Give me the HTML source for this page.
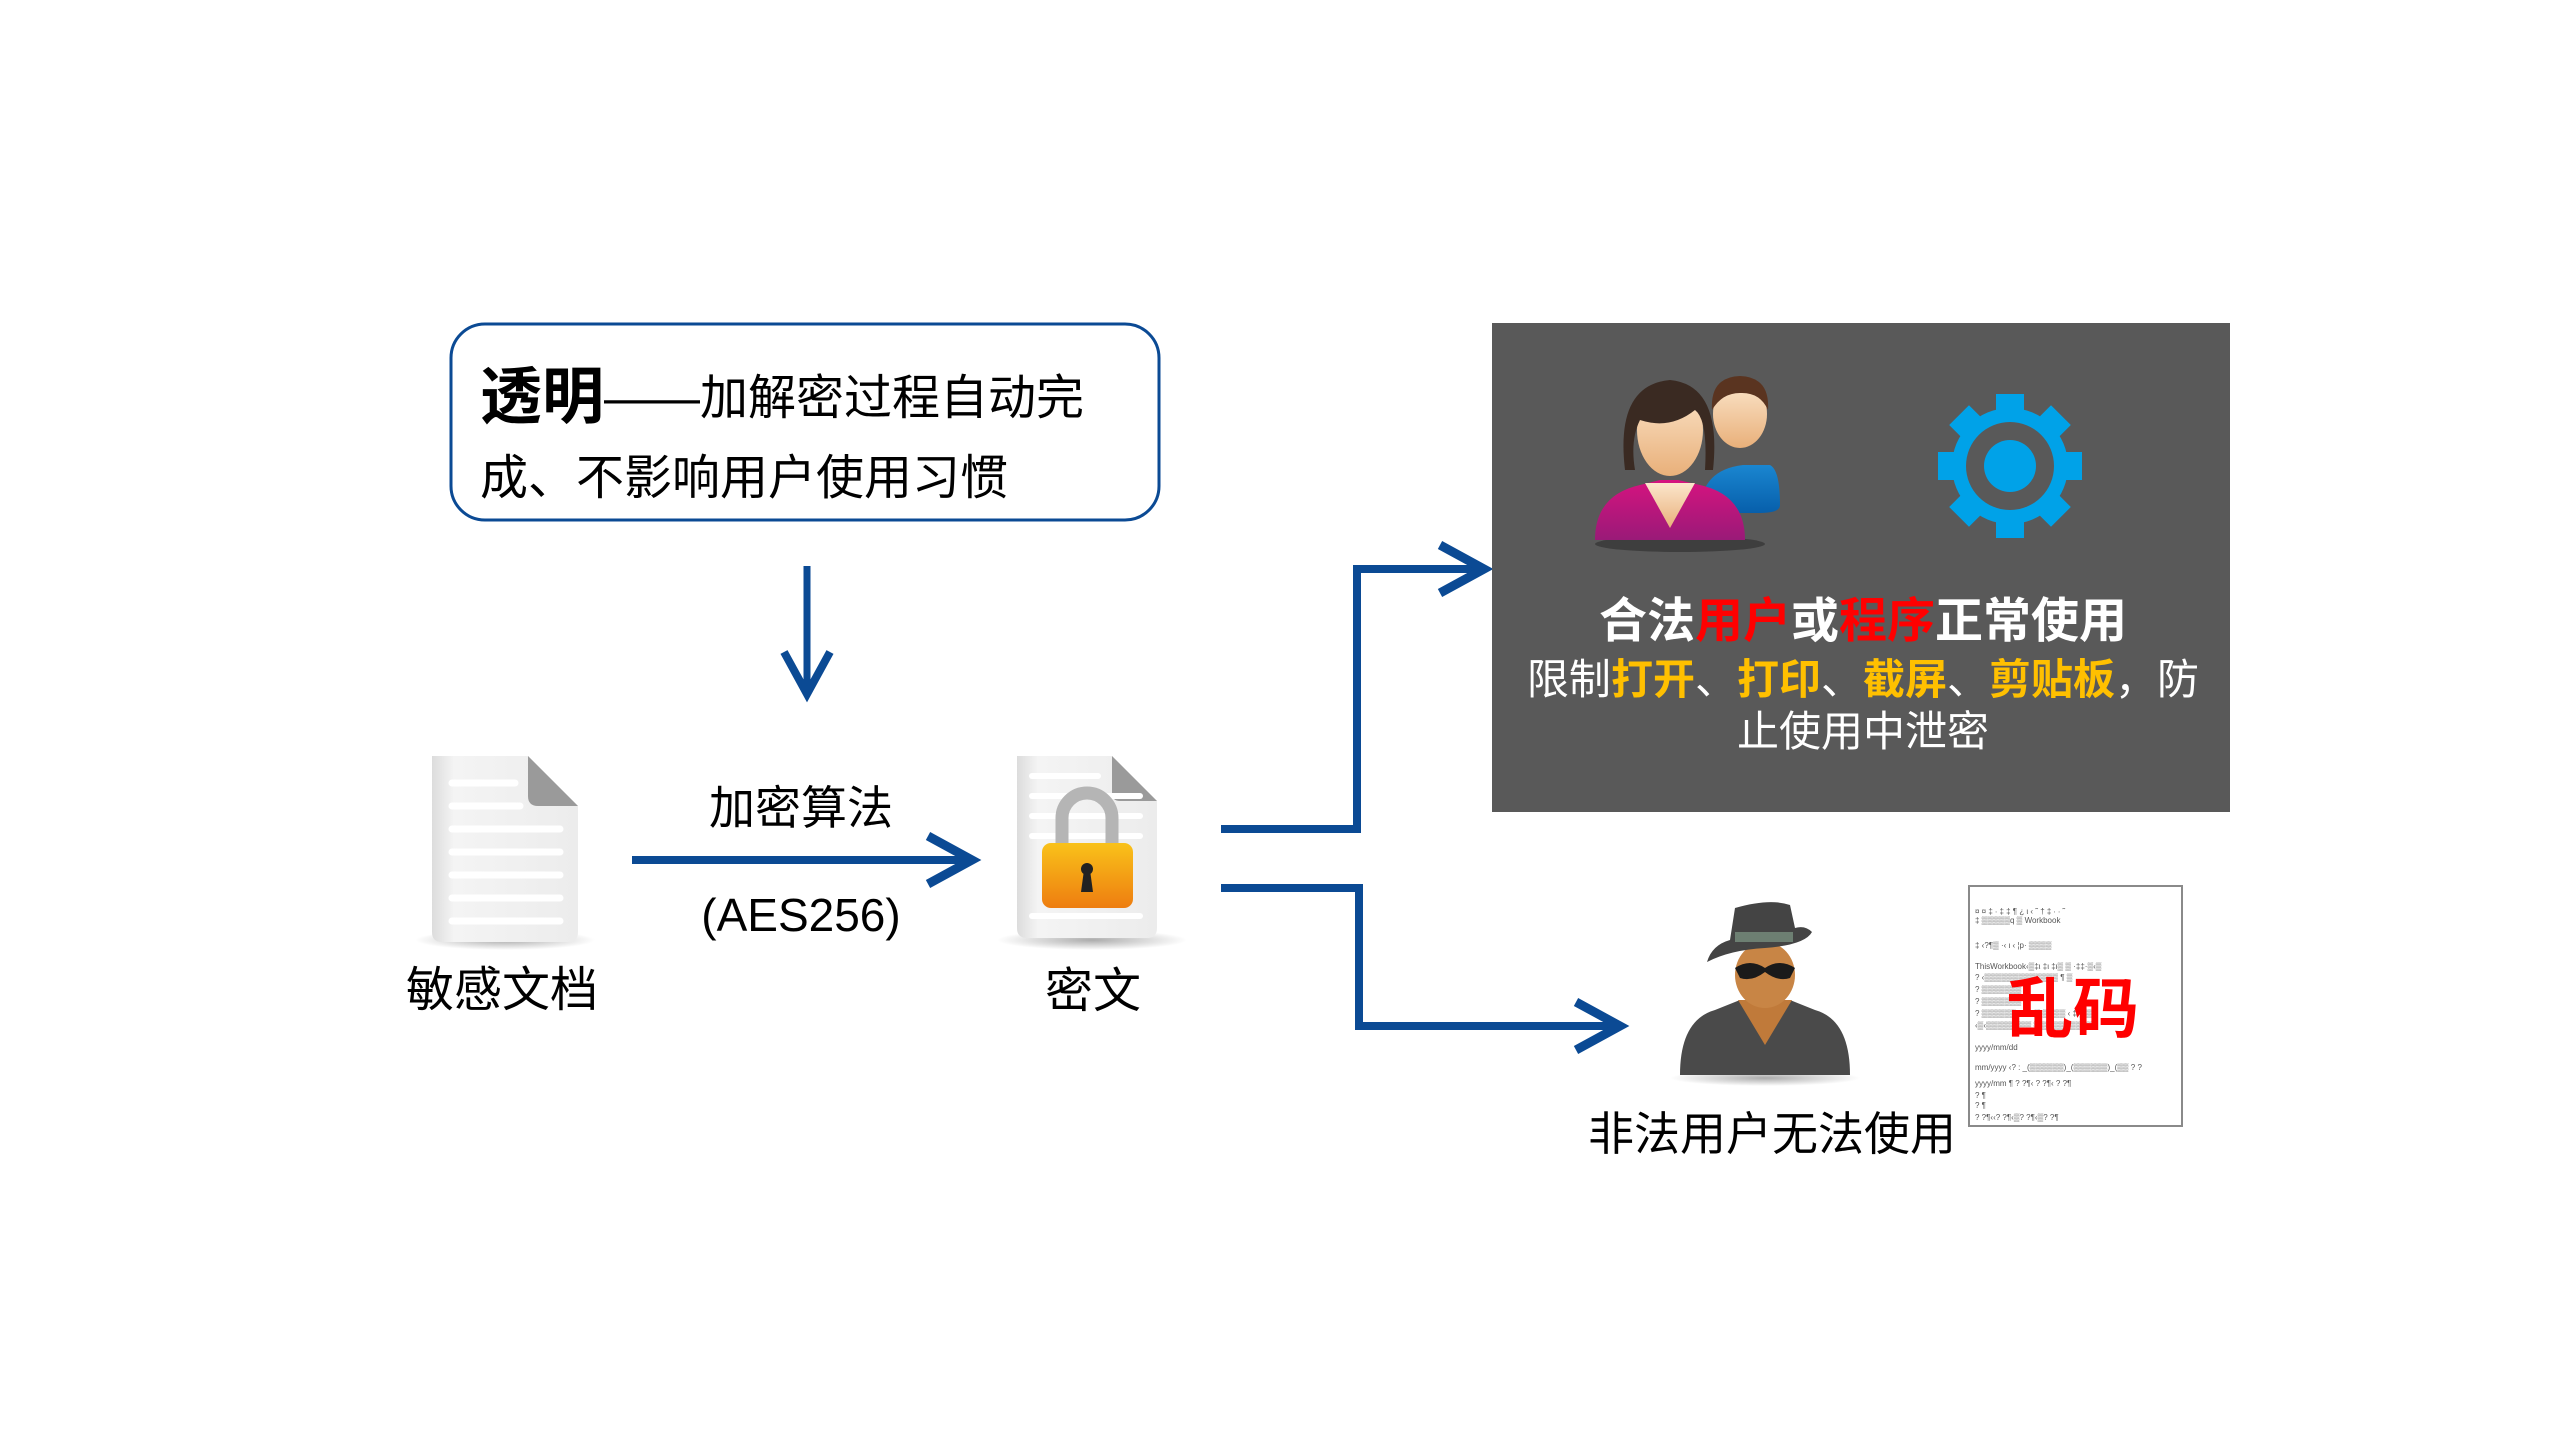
<!DOCTYPE html>
<html><head><meta charset="utf-8"><style>
html,body{margin:0;padding:0;background:#fff;}
svg{display:block;}
text{font-family:"Liberation Sans","Noto Sans CJK SC",sans-serif;}
</style></head><body>
<svg width="2560" height="1440" viewBox="0 0 2560 1440" xmlns="http://www.w3.org/2000/svg">
<defs>
<linearGradient id="pg" x1="0" y1="0" x2="1" y2="0"><stop offset="0" stop-color="#dcdcdc"/><stop offset="0.15" stop-color="#f4f4f4"/><stop offset="1" stop-color="#ececec"/></linearGradient>
<linearGradient id="lk" x1="0" y1="0" x2="0" y2="1"><stop offset="0" stop-color="#f9c21a"/><stop offset="1" stop-color="#ee7d10"/></linearGradient>
<linearGradient id="pk" x1="0" y1="0" x2="0" y2="1"><stop offset="0" stop-color="#d6137f"/><stop offset="1" stop-color="#9a1a78"/></linearGradient>
<linearGradient id="bl" x1="0" y1="0" x2="0" y2="1"><stop offset="0" stop-color="#1a86d0"/><stop offset="1" stop-color="#075fab"/></linearGradient>
<linearGradient id="fc" x1="0" y1="0" x2="0" y2="1"><stop offset="0" stop-color="#fbe6cc"/><stop offset="1" stop-color="#e9b07a"/></linearGradient>
<radialGradient id="sh"><stop offset="0" stop-color="#888" stop-opacity="0.7"/><stop offset="1" stop-color="#888" stop-opacity="0"/></radialGradient>
</defs>

<!-- Top rounded box -->
<rect x="451" y="324" width="708" height="196" rx="34" fill="#fff" stroke="#0b4a94" stroke-width="3"/>
<text x="480" y="418" font-size="62" font-weight="bold" fill="#000">透明</text>
<text x="604" y="414" font-size="48" fill="#000">——加解密过程自动完</text>
<text x="480" y="494" font-size="48" fill="#000">成、不影响用户使用习惯</text>

<!-- Down arrow -->
<line x1="807" y1="566" x2="807" y2="692" stroke="#0b4a94" stroke-width="7"/>
<polyline points="784,652 807,694 830,652" fill="none" stroke="#0b4a94" stroke-width="8"/>

<!-- Plain document icon -->
<ellipse cx="505" cy="940" rx="90" ry="10" fill="url(#sh)"/>
<path d="M432,756 H528 L578,806 V932 Q578,942 568,942 H442 Q432,942 432,932 Z" fill="url(#pg)"/>
<path d="M528,756 L578,806 H538 Q528,806 528,796 Z" fill="#9a9a9a"/>
<g stroke="#fff" stroke-width="7" stroke-linecap="round">
<line x1="452" y1="783" x2="515" y2="783"/><line x1="452" y1="806" x2="520" y2="806"/>
<line x1="452" y1="829" x2="560" y2="829"/><line x1="452" y1="852" x2="560" y2="852"/>
<line x1="452" y1="875" x2="560" y2="875"/><line x1="452" y1="898" x2="560" y2="898"/>
<line x1="452" y1="921" x2="560" y2="921"/>
</g>
<text x="502" y="1006" font-size="48" fill="#000" text-anchor="middle">敏感文档</text>

<!-- Encrypt arrow -->
<text x="801" y="824" font-size="46" fill="#000" text-anchor="middle">加密算法</text>
<line x1="632" y1="860" x2="968" y2="860" stroke="#0b4a94" stroke-width="8"/>
<polyline points="928,836 972,860 928,884" fill="none" stroke="#0b4a94" stroke-width="9"/>
<text x="801" y="931" font-size="46" fill="#000" text-anchor="middle">(AES256)</text>

<!-- Lock document -->
<ellipse cx="1092" cy="940" rx="95" ry="10" fill="url(#sh)"/>
<path d="M1017,756 H1112 L1157,801 V928 Q1157,938 1147,938 H1027 Q1017,938 1017,928 Z" fill="url(#pg)"/>
<path d="M1112,756 L1157,801 H1120 Q1112,801 1112,793 Z" fill="#9a9a9a"/>
<g stroke="#fff" stroke-width="6" stroke-linecap="round">
<line x1="1032" y1="776" x2="1098" y2="776"/><line x1="1032" y1="796" x2="1140" y2="796"/>
<line x1="1032" y1="816" x2="1140" y2="816"/><line x1="1032" y1="836" x2="1140" y2="836"/>
<line x1="1032" y1="916" x2="1140" y2="916"/>
</g>
<path d="M1062,848 V818 A25,25 0 0 1 1112,818 V848" fill="none" stroke="#b5b5b5" stroke-width="13"/>
<rect x="1042" y="843" width="91" height="65" rx="9" fill="url(#lk)"/>
<circle cx="1087" cy="869" r="6" fill="#222"/>
<path d="M1084,870 L1081,892 H1093 L1090,870 Z" fill="#222"/>
<text x="1093" y="1007" font-size="48" fill="#000" text-anchor="middle">密文</text>

<!-- Connectors -->
<polyline points="1221,829 1357,829 1357,569 1480,569" fill="none" stroke="#0b4a94" stroke-width="8"/>
<polyline points="1440,545 1484,569 1440,593" fill="none" stroke="#0b4a94" stroke-width="9"/>
<polyline points="1221,888 1359,888 1359,1026 1616,1026" fill="none" stroke="#0b4a94" stroke-width="8"/>
<polyline points="1576,1002 1620,1026 1576,1050" fill="none" stroke="#0b4a94" stroke-width="9"/>

<!-- Dark panel -->
<rect x="1492" y="323" width="738" height="489" fill="#595959"/>
<!-- people icon -->
<ellipse cx="1680" cy="544" rx="85" ry="8" fill="#3e3e3e"/>
<path d="M1700,513 Q1700,470 1743,465 H1770 Q1780,470 1780,505 Q1780,513 1760,513 Z" fill="url(#bl)"/>
<ellipse cx="1740" cy="414" rx="27" ry="34" fill="url(#fc)"/>
<path d="M1712,410 Q1710,377 1740,376 Q1770,377 1768,410 Q1760,392 1740,393 Q1722,393 1712,410Z" fill="#5a3420"/>
<path d="M1595,540 Q1595,495 1640,485 L1660,480 L1678,480 L1700,485 Q1745,495 1745,540 Z" fill="url(#pk)"/>
<path d="M1645,483 L1670,528 L1695,483 Z" fill="url(#fc)"/>
<ellipse cx="1670" cy="430" rx="33" ry="46" fill="url(#fc)"/>
<path d="M1625,470 Q1615,385 1670,380 Q1722,385 1713,470 L1705,470 Q1708,420 1695,410 Q1670,430 1640,420 Q1630,440 1635,470 Z" fill="#3a2a22"/>
<!-- gear -->
<g transform="translate(2010,466)" fill="#00a2e8">
<g id="t"><rect x="-14" y="-72" width="28" height="30"/></g>
<use href="#t" transform="rotate(45)"/><use href="#t" transform="rotate(90)"/><use href="#t" transform="rotate(135)"/>
<use href="#t" transform="rotate(180)"/><use href="#t" transform="rotate(225)"/><use href="#t" transform="rotate(270)"/><use href="#t" transform="rotate(315)"/>
<circle r="58"/>
<circle r="44" fill="#595959"/>
<circle r="26"/>
</g>
<text x="1863" y="637" font-size="48" font-weight="bold" text-anchor="middle" fill="#fff">合法<tspan fill="#ff0000">用户</tspan>或<tspan fill="#ff0000">程序</tspan>正常使用</text>
<text x="1863" y="694" font-size="42" text-anchor="middle" fill="#fff">限制<tspan fill="#ffc000" font-weight="bold">打开</tspan>、<tspan fill="#ffc000" font-weight="bold">打印</tspan>、<tspan fill="#ffc000" font-weight="bold">截屏</tspan>、<tspan fill="#ffc000" font-weight="bold">剪贴板</tspan>，防</text>
<text x="1863" y="746" font-size="42" text-anchor="middle" fill="#fff">止使用中泄密</text>

<!-- spy -->
<ellipse cx="1765" cy="1078" rx="95" ry="8" fill="url(#sh)"/>
<path d="M1680,1075 Q1680,1020 1715,1010 L1740,1000 H1790 L1815,1010 Q1850,1020 1850,1075 Z" fill="#4a4a4a"/>
<path d="M1738,1000 L1765,1045 L1792,1000 Z" fill="#c07a3a"/>
<ellipse cx="1765" cy="975" rx="30" ry="33" fill="#c88545"/>
<path d="M1735,968 Q1750,958 1765,968 Q1780,958 1795,968 L1790,978 Q1778,982 1765,972 Q1752,982 1740,978Z" fill="#1a1a1a"/>
<path d="M1707,962 Q1730,950 1765,948 Q1805,945 1812,932 Q1805,925 1795,928 L1790,905 Q1770,898 1735,908 L1730,940 Q1712,945 1707,962Z" fill="#444"/>
<rect x="1735" y="932" width="58" height="10" fill="#6d7f72"/>
<text x="1772" y="1150" font-size="46" fill="#000" text-anchor="middle">非法用户无法使用</text>

<!-- garbled doc -->
<rect x="1969" y="886" width="213" height="240" fill="#fff" stroke="#8a8a8a" stroke-width="2"/>
<g font-size="8" fill="#555" font-family="Liberation Mono,monospace">
<text x="1975" y="914">¤ ¤ ‡ ∙ ‡ ‡ ¶ ¿ ι ‹ ˜ † ‡ ∙ ∙       ˜</text>
<text x="1975" y="923">   ‡ ▒▒▒▒▒q  ▒  Workbook</text>
<text x="1975" y="948">‡ ‹?¶▒ ·‹ ι ‹  ¦p· ▒▒▒▒</text>
<text x="1975" y="969">ThisWorkbook‹▒‡ι ‡ι ‡ι▒ ▒ ·‡‡·▒‹▒</text>
<text x="1975" y="980">? ‹▒▒▒▒▒▒▒▒▒▒▒▒▒ ¶ ▒</text>
<text x="1975" y="992">?  ▒▒▒▒▒▒▒</text>
<text x="1975" y="1004">?  ▒▒▒▒▒▒▒</text>
<text x="1975" y="1016">?  ▒▒▒▒▒▒ ‹‡‡ ‹▒‹▒▒▒▒ ‹ ‡‹▒▒▒</text>
<text x="1975" y="1028">‹▒‹▒▒▒▒▒▒▒▒ ▒▒▒▒▒▒ ▒▒ ▒▒</text>
<text x="1975" y="1050">yyyy/mm/dd</text>
<text x="1975" y="1070">mm/yyyy ‹? : _(▒▒▒▒▒▒)_(▒▒▒▒▒▒)_(▒▒ ? ?</text>
<text x="1975" y="1086">  yyyy/mm ¶   ?     ?¶‹ ?    ?¶‹ ?  ?¶</text>
<text x="1975" y="1098">?        ¶</text>
<text x="1975" y="1108">?        ¶</text>
<text x="1975" y="1120">?     ?¶‹‹?   ?¶‹▒?   ?¶‹▒?   ?¶</text>
</g>
<text x="2073" y="1032" font-size="66" font-weight="bold" fill="#ff0000" text-anchor="middle">乱码</text>
</svg>
</body></html>
